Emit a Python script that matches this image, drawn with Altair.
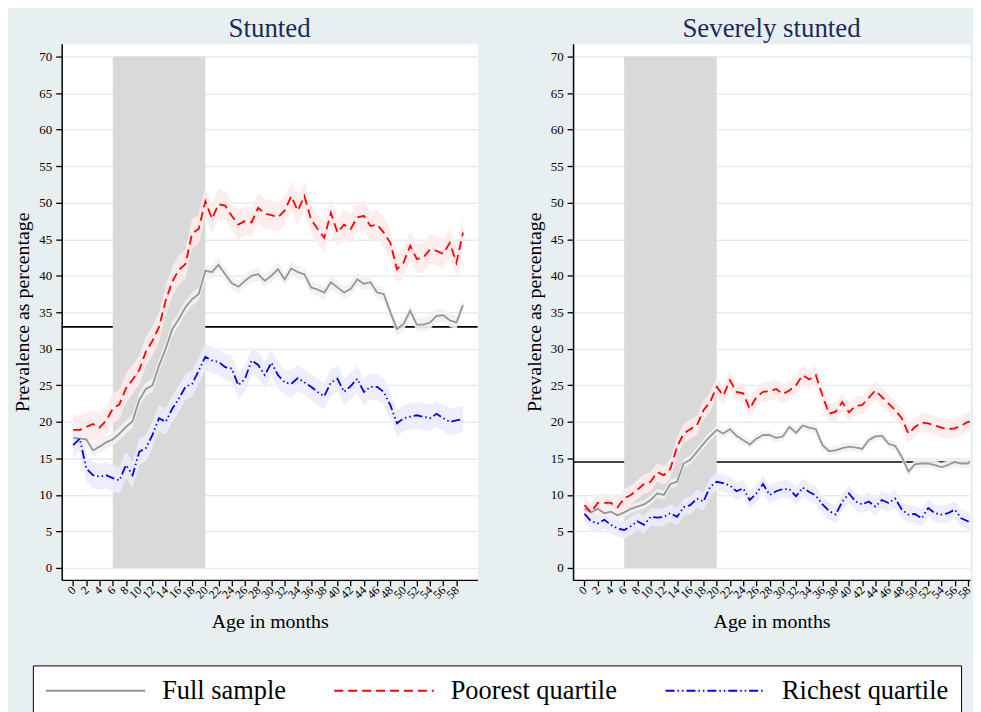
import altair as alt
import pandas as pd

# ---------------- data ----------------
months = list(range(60))
panel_titles = ["Stunted", "Severely stunted"]
series_names = ["Full sample", "Poorest quartile", "Richest quartile"]

stunted_full = [17.8, 17.7, 17.6, 16.1, 16.6, 17.2, 17.6, 18.4, 19.3, 20.1,
                23.0, 24.5, 25.0, 27.7, 30.0, 32.7, 34.1, 35.7, 36.8, 37.5,
                40.7, 40.5, 41.5, 40.2, 39.0, 38.5, 39.3, 40.0, 40.2, 39.3,
                40.0, 40.9, 39.5, 41.0, 40.5, 40.2, 38.4, 38.1, 37.7, 39.1,
                38.4, 37.7, 38.2, 39.5, 38.9, 39.1, 37.7, 37.5, 35.0, 32.7,
                33.4, 35.2, 33.3, 33.3, 33.6, 34.5, 34.6, 33.9, 33.6, 36.0]
stunted_poor = [18.9, 18.9, 19.3, 19.7, 19.2, 20.2, 21.8, 22.4, 24.6, 25.8,
                27.1, 29.6, 31.1, 33.0, 36.6, 39.2, 40.8, 41.6, 45.8, 46.4,
                50.2, 47.8, 49.8, 49.6, 48.2, 47.0, 47.5, 47.3, 49.3, 48.5,
                48.3, 48.0, 48.9, 50.9, 48.9, 50.9, 47.7, 46.4, 45.2, 48.6,
                45.9, 47.0, 46.4, 48.0, 48.2, 46.8, 47.0, 45.9, 44.5, 40.9,
                41.8, 44.1, 42.3, 42.5, 43.6, 43.4, 43.0, 44.5, 41.8, 45.9]
stunted_rich = [16.8, 17.7, 13.6, 12.7, 12.5, 12.7, 12.3, 12.0, 14.1, 12.7,
                15.9, 16.4, 18.2, 20.5, 20.0, 21.8, 23.2, 24.8, 25.2, 27.0,
                28.9, 28.4, 28.2, 27.5, 27.3, 25.0, 25.9, 28.4, 27.8, 26.4,
                28.1, 26.4, 25.4, 25.2, 26.0, 25.4, 24.8, 24.1, 23.5, 25.4,
                25.9, 24.1, 24.9, 25.9, 24.1, 24.8, 24.8, 24.1, 22.3, 19.8,
                20.5, 20.7, 20.9, 20.7, 20.5, 21.1, 20.5, 20.0, 20.2, 20.4]

severe_full = [8.1, 7.6, 8.1, 7.5, 7.7, 7.2, 7.6, 8.1, 8.4, 8.7,
               9.3, 10.2, 10.0, 11.5, 11.8, 14.3, 14.8, 15.9, 17.0, 18.0,
               18.9, 18.4, 19.0, 18.1, 17.5, 16.9, 17.7, 18.2, 18.2, 17.8,
               18.0, 19.3, 18.5, 19.5, 19.2, 19.0, 16.8, 16.0, 16.1, 16.4,
               16.6, 16.5, 16.3, 17.5, 18.0, 18.1, 17.0, 16.7, 15.2, 13.2,
               14.2, 14.3, 14.3, 14.1, 13.8, 14.1, 14.5, 14.3, 14.3, 15.1]
severe_poor = [8.6, 7.6, 8.9, 8.9, 8.9, 8.3, 9.5, 10.0, 10.7, 11.5,
               11.8, 13.1, 12.7, 13.6, 16.6, 18.4, 19.0, 19.5, 21.6, 22.7,
               24.8, 23.6, 25.7, 24.1, 23.9, 21.8, 23.4, 24.1, 24.2, 24.5,
               23.8, 24.3, 25.0, 26.4, 25.8, 26.4, 23.6, 21.1, 21.4, 22.7,
               21.3, 22.2, 22.3, 23.3, 24.3, 23.4, 22.5, 21.6, 20.5, 18.4,
               19.3, 19.9, 19.8, 19.5, 19.2, 19.0, 19.1, 19.5, 20.0, 20.1]
severe_rich = [7.4, 6.4, 6.1, 6.6, 5.9, 5.4, 5.2, 5.7, 6.4, 5.9,
               7.0, 6.9, 7.0, 7.5, 7.0, 8.3, 8.6, 9.5, 9.1, 11.1,
               11.8, 11.6, 11.3, 10.5, 10.9, 9.3, 10.2, 11.5, 10.0, 10.5,
               10.8, 10.8, 9.8, 11.0, 10.4, 9.9, 8.7, 7.8, 7.3, 9.1,
               10.2, 9.1, 8.7, 9.1, 8.4, 9.3, 8.9, 9.5, 8.0, 7.3,
               7.4, 6.8, 8.2, 7.5, 7.3, 7.5, 8.0, 6.8, 6.4, 5.5]

# confidence-band half widths (full, poorest, richest)
stunted_ci = [0.9, 2.0, 1.8]
severe_ci = [0.6, 1.3, 1.2]

# national reference lines
reference_levels = [33.0, 14.5]

# shaded age window (months) and its height
shade_start = [6]
shade_end = [20]
shade_bottom = [0]
shade_top = [70]

x_ticks = list(range(0, 59, 2))
y_ticks = list(range(0, 71, 5))

line_colors = ["#969696", "#ff0000", "#0000ff"]
band_colors = ["#f1f1f1", "#fdecec", "#ececfd"]
dash_styles = [[1, 0], [9, 5], [9, 3, 1.5, 3, 1.5, 3]]

SERIF = "Liberation Serif"


def make_df(vals_list, ci_list):
    rows = []
    for name, vals, ci in zip(series_names, vals_list, ci_list):
        for m, v in zip(months, vals):
            rows.append({"month": m, "series": name,
                         "value": v, "lo": v - ci, "hi": v + ci})
    return pd.DataFrame(rows)


df_stunted = make_df([stunted_full, stunted_poor, stunted_rich], stunted_ci)
df_severe = make_df([severe_full, severe_poor, severe_rich], severe_ci)

y_scale = alt.Scale(domain=[-1.63, 71.77], nice=False, zero=False)

y_axis = alt.Axis(values=y_ticks, title="Prevalence as percentage", grid=True,
                  labelPadding=4, titlePadding=6)

# long horizontal key line drawn as a custom path (keeps legend rows short)
legend = alt.Legend(title=None, orient="none", legendX=-29, legendY=625,
                    direction="horizontal", columns=3,
                    symbolType="M-1,0H7", symbolSize=625,
                    symbolStrokeWidth=2, labelFont=SERIF, labelFontSize=26.5,
                    labelColor="black", labelOffset=91, labelLimit=400,
                    columnPadding=44, padding=12, fillColor="white",
                    strokeColor="black")

color_scale = alt.Scale(domain=series_names, range=line_colors)
dash_scale = alt.Scale(domain=series_names, range=dash_styles)


def panel(title, df, ref, x_max, width, clip):
    x_scale = alt.Scale(domain=[-1.73, x_max], nice=False, zero=False)
    x_axis = alt.Axis(values=x_ticks, title="Age in months", grid=False,
                      labelAngle=315, labelAlign="right",
                      labelBaseline="middle", labelFontSize=12,
                      labelPadding=2, titleY=48, titleBaseline="alphabetic",
                      labelOverlap=False)
    ref_df = pd.DataFrame({"ref": [ref]})
    shade_df = pd.DataFrame({"x0": shade_start, "x1": shade_end,
                             "y0": shade_bottom, "y1": shade_top})

    rule = alt.Chart(ref_df).mark_rule(color="black", strokeWidth=1.6).encode(
        y=alt.Y("ref:Q", scale=y_scale, axis=y_axis)
    )
    shade = alt.Chart(shade_df).mark_rect(color="#d9d9d9").encode(
        x=alt.X("x0:Q", scale=x_scale, axis=x_axis),
        x2="x1:Q",
        y=alt.Y("y0:Q", scale=y_scale, axis=y_axis),
        y2="y1:Q",
    )
    band_layers = []
    for name, bcol in zip(series_names, band_colors):
        band_layers.append(
            alt.Chart(df).transform_filter(alt.datum.series == name)
            .mark_area(color=bcol, opacity=0.92, clip=clip)
            .encode(
                x=alt.X("month:Q", scale=x_scale, axis=x_axis),
                y=alt.Y("lo:Q", scale=y_scale, axis=y_axis),
                y2="hi:Q",
            )
        )
    lines = alt.Chart(df).mark_line(strokeWidth=1.8, clip=clip).encode(
        x=alt.X("month:Q", scale=x_scale, axis=x_axis),
        y=alt.Y("value:Q", scale=y_scale, axis=y_axis),
        color=alt.Color("series:N", scale=color_scale, legend=legend),
        strokeDash=alt.StrokeDash("series:N", scale=dash_scale, legend=legend),
    )
    return alt.layer(rule, shade, *band_layers, lines).properties(
        width=width, height=539, title=title
    )


left = panel(panel_titles[0], df_stunted, reference_levels[0], 61.2, 418, False)
right = panel(panel_titles[1], df_severe, reference_levels[1], 58.32, 399, True)

chart = (
    alt.hconcat(left, right, spacing=44)
    .resolve_scale(color="shared", strokeDash="shared")
    .configure(background="#e8eff1",
               padding={"left": 4, "top": 4, "right": 0, "bottom": 0})
    .configure_view(fill="white", stroke="transparent")
    .configure_axis(domainColor="black", domainWidth=1.5, tickColor="black",
                    tickWidth=1.3, tickSize=6, labelFont=SERIF,
                    labelFontSize=13, labelColor="black", titleFont=SERIF,
                    titleFontSize=20, titleFontWeight="normal",
                    titleColor="black", gridColor="#e3eded", gridWidth=1.5)
    .configure_title(font=SERIF, fontSize=27, fontWeight="normal",
                     color="#1c2a5a", anchor="middle", offset=1)
)

chart.save("out.html", embed_options={"renderer": "svg", "actions": False})
